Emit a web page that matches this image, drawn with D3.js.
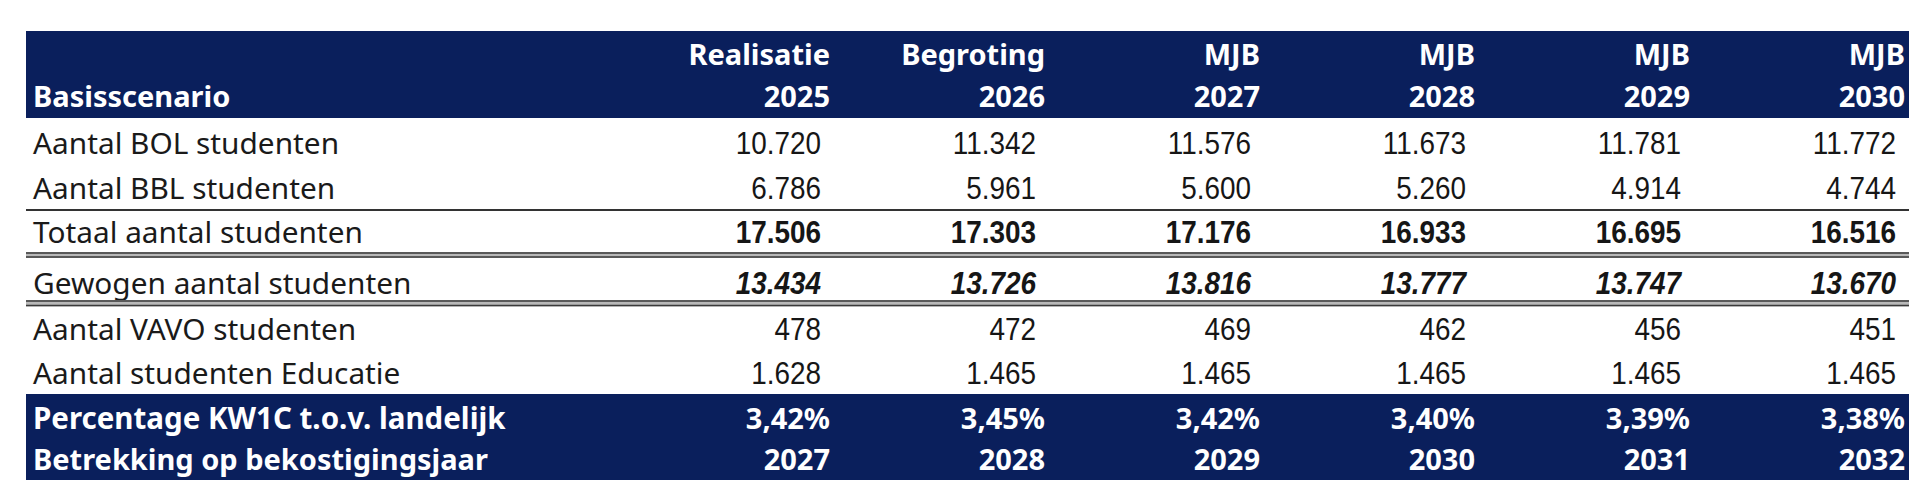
<!DOCTYPE html>
<html>
<head>
<meta charset="utf-8">
<script src="https://cdn.jsdelivr.net/npm/d3@7"></script>
<style>
  body { margin: 0; background: #ffffff; }
  svg { display: block; }
</style>
</head>
<body>
<svg id="table"></svg>
<script>
// table data
var phases = ["Realisatie", "Begroting", "MJB", "MJB", "MJB", "MJB"];
var years = ["2025", "2026", "2027", "2028", "2029", "2030"];
var bolStudents = [10720, 11342, 11576, 11673, 11781, 11772];
var bblStudents = [6786, 5961, 5600, 5260, 4914, 4744];
var totalStudents = [17506, 17303, 17176, 16933, 16695, 16516];
var weightedStudents = [13434, 13726, 13816, 13777, 13747, 13670];
var vavoStudents = [478, 472, 469, 462, 456, 451];
var educatieStudents = [1628, 1465, 1465, 1465, 1465, 1465];
var sharePercent = [3.42, 3.45, 3.42, 3.40, 3.39, 3.38];
var fundingYears = ["2027", "2028", "2029", "2030", "2031", "2032"];

var bodyRows = [
    { label: "Aantal BOL studenten", values: bolStudents, style: "normal" },
    { label: "Aantal BBL studenten", values: bblStudents, style: "normal" },
    { label: "Totaal aantal studenten", values: totalStudents, style: "bold" },
    { label: "Gewogen aantal studenten", values: weightedStudents, style: "bolditalic" },
    { label: "Aantal VAVO studenten", values: vavoStudents, style: "normal" },
    { label: "Aantal studenten Educatie", values: educatieStudents, style: "normal" }
];

var dimensions = {
    width: 1920,
    height: 498,
    left: 26,
    right: 1909,
    headerTop: 31,
    headerBottom: 118,
    footerTop: 394,
    footerBottom: 480,
    labelX: 33
};

var navy = "#0a1f5c";
var labelFont = "'Noto Sans', 'Open Sans', sans-serif";
// Liberation Sans squeezed a little stands in for the narrow number font
var numberFont = "'Liberation Sans', Arial, sans-serif";
var narrow = 0.9;

var nl = d3.formatLocale({ decimal: ",", thousands: ".", grouping: [3], currency: ["€", ""] });
var fmtInt = nl.format(",d");
var fmtPct = nl.format(",.2f");

var svg = d3.select("#table")
    .attr("width", dimensions.width)
    .attr("height", dimensions.height);

// column right edges
var xScale = d3.scaleLinear()
    .domain([0, years.length - 1])
    .range([830, 1905]);

// baselines of the body rows
var rowBaselines = [154, 199, 243, 294, 340, 384];
var yScale = d3.scaleOrdinal()
    .domain(d3.range(bodyRows.length))
    .range(rowBaselines);

// header band
svg.append("rect")
    .attr("x", dimensions.left)
    .attr("y", dimensions.headerTop)
    .attr("width", dimensions.right - dimensions.left)
    .attr("height", dimensions.headerBottom - dimensions.headerTop)
    .attr("fill", navy);

svg.append("text")
    .attr("x", dimensions.labelX)
    .attr("y", 107)
    .attr("fill", "#ffffff")
    .style("font-family", labelFont)
    .style("font-weight", "bold")
    .style("font-size", "29px")
    .text("Basisscenario");

var headerCols = svg.append("g")
    .selectAll("g")
    .data(years)
    .enter()
    .append("g");

headerCols.append("text")
    .attr("x", (d, i) => xScale(i))
    .attr("y", 65)
    .attr("text-anchor", "end")
    .attr("fill", "#ffffff")
    .style("font-family", labelFont)
    .style("font-weight", "bold")
    .style("font-size", "29px")
    .text((d, i) => phases[i]);

headerCols.append("text")
    .attr("x", (d, i) => xScale(i))
    .attr("y", 107)
    .attr("text-anchor", "end")
    .attr("fill", "#ffffff")
    .style("font-family", labelFont)
    .style("font-weight", "bold")
    .style("font-size", "29px")
    .text(d => d);

// body rows
var rows = svg.append("g")
    .selectAll("g")
    .data(bodyRows)
    .enter()
    .append("g");

rows.append("text")
    .attr("x", dimensions.labelX)
    .attr("y", (d, i) => yScale(i))
    .attr("fill", "#1a1a1a")
    .style("font-family", labelFont)
    .style("font-size", "29.8px")
    .text(d => d.label);

rows.each(function(row, r) {
    d3.select(this).selectAll("text.value")
        .data(row.values)
        .enter()
        .append("text")
        .attr("class", "value")
        .attr("transform", (d, i) => "translate(" + (xScale(i) - 9) + "," + yScale(r) + ") scale(" + narrow + ",1)")
        .attr("text-anchor", "end")
        .attr("fill", "#161616")
        .style("font-family", numberFont)
        .style("font-size", "31px")
        .style("font-weight", row.style === "normal" ? "normal" : "bold")
        .style("font-style", row.style === "bolditalic" ? "italic" : "normal")
        .text(d => fmtInt(d));
});

// separator lines
svg.append("line")
    .attr("x1", dimensions.left).attr("x2", dimensions.right)
    .attr("y1", 210).attr("y2", 210)
    .attr("stroke", "#333333")
    .attr("stroke-width", 2);

[[253, 257], [301, 305.5]].forEach(function(pair) {
    svg.append("rect")
        .attr("x", dimensions.left)
        .attr("y", pair[0] - 1)
        .attr("width", dimensions.right - dimensions.left)
        .attr("height", pair[1] - pair[0] + 2)
        .attr("fill", "#b8b8b8");
    pair.forEach(function(y) {
        svg.append("line")
            .attr("x1", dimensions.left).attr("x2", dimensions.right)
            .attr("y1", y).attr("y2", y)
            .attr("stroke", "#3a3a3a")
            .attr("stroke-width", 1.5);
    });
});

// footer band
svg.append("rect")
    .attr("x", dimensions.left)
    .attr("y", dimensions.footerTop)
    .attr("width", dimensions.right - dimensions.left)
    .attr("height", dimensions.footerBottom - dimensions.footerTop)
    .attr("fill", navy);

var footerLines = [
    { label: "Percentage KW1C t.o.v. landelijk", values: sharePercent.map(d => fmtPct(d) + "%"), y: 429, size: "29.5px" },
    { label: "Betrekking op bekostigingsjaar", values: fundingYears, y: 470, size: "29px" }
];

var footer = svg.append("g")
    .selectAll("g")
    .data(footerLines)
    .enter()
    .append("g");

footer.append("text")
    .attr("x", dimensions.labelX)
    .attr("y", d => d.y)
    .attr("fill", "#ffffff")
    .style("font-family", labelFont)
    .style("font-weight", "bold")
    .style("font-size", d => d.size)
    .text(d => d.label);

footer.each(function(line) {
    d3.select(this).selectAll("text.value")
        .data(line.values)
        .enter()
        .append("text")
        .attr("class", "value")
        .attr("x", (d, i) => xScale(i))
        .attr("y", line.y)
        .attr("text-anchor", "end")
        .attr("fill", "#ffffff")
        .style("font-family", labelFont)
        .style("font-weight", "bold")
        .style("font-size", "29px")
        .text(d => d);
});
</script>
</body>
</html>
